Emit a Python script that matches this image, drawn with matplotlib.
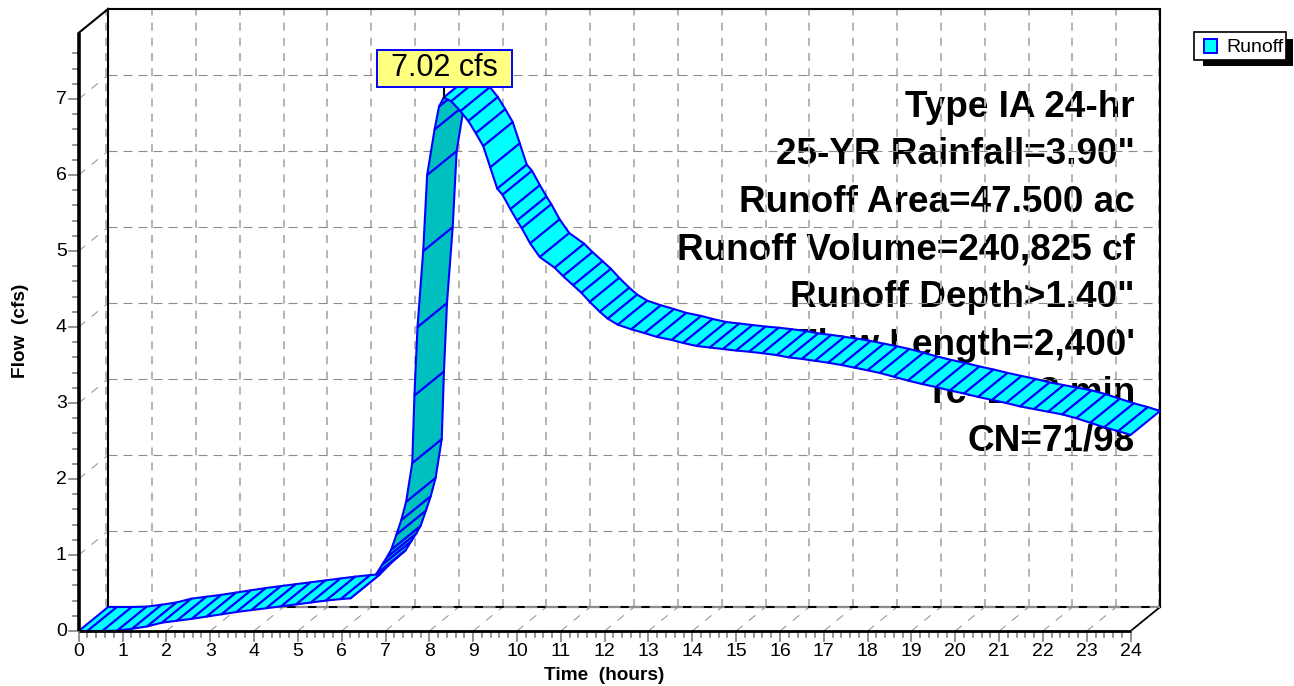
import matplotlib
matplotlib.use("Agg")
import matplotlib.pyplot as plt
from matplotlib.patches import Polygon, Rectangle

plt.rcParams['font.family'] = ['Liberation Sans', 'DejaVu Sans']

# hydrograph, hatch lines sit on these points
time_hours = [0, .2, .54, .88, 1.22, 1.56, 1.9, 2.24, 2.58, 2.92, 3.26, 3.6, 3.94, 4.28, 4.62, 4.96, 5.3, 5.64,
              5.98, 6.2, 6.4, 6.79, 6.92, 7.03, 7.13, 7.25, 7.36, 7.47, 7.61, 7.66, 7.73, 7.86, 7.95, 8.12,
              8.22, 8.33, 8.5, 8.71, 8.89, 9.06, 9.23, 9.39, 9.55, 9.67, 9.85, 10.0, 10.11, 10.3, 10.52, 10.86,
              11.05, 11.28, 11.47, 11.66, 11.89, 12.07, 12.3, 12.61, 12.91, 13.19, 13.53, 13.79, 14.1, 14.4,
              14.7, 15.0, 15.3, 15.6, 15.93, 16.2, 16.5, 16.8, 17.1, 17.4, 17.7, 18.0, 18.28, 18.6, 18.92,
              19.24, 19.56, 19.88, 20.2, 20.52, 20.84, 21.16, 21.48, 21.8, 22.12, 22.44, 22.76, 23.08, 23.4,
              23.72, 24]
flow_cfs = [0, 0, 0, .005, .03, .06, .11, .135, .16, .19, .22, .25, .275, .30, .325, .35, .375, .40,
            .42, .43, .55, .75, .87, .97, 1.07, 1.27, 1.46, 1.70, 2.21, 3.1, 4.0, 5.0, 6.0, 6.6,
            6.9, 7.02, 6.97, 6.84, 6.71, 6.55, 6.38, 6.1, 5.82, 5.74, 5.55, 5.40, 5.30, 5.10, 4.92, 4.78,
            4.67, 4.55, 4.45, 4.33, 4.20, 4.11, 4.03, 3.97, 3.92, 3.87, 3.83, 3.79, 3.75, 3.73,
            3.71, 3.69, 3.675, 3.655, 3.63, 3.60, 3.58, 3.555, 3.53, 3.50, 3.465, 3.43, 3.395, 3.345, 3.295,
            3.25, 3.21, 3.165, 3.125, 3.08, 3.04, 3.0, 2.955, 2.92, 2.885, 2.85, 2.80, 2.74, 2.68,
            2.63, 2.58]

x_ticks = list(range(0, 25))
y_ticks = list(range(0, 8))
notes = ["Type IA 24-hr", "25-YR Rainfall=3.90\"", "Runoff Area=47.500 ac", "Runoff Volume=240,825 cf",
         "Runoff Depth>1.40\"", "Flow Length=2,400'", "Tc=25.8 min", "CN=71/98"]
note_y = [6.89, 6.265, 5.64, 5.01, 4.385, 3.76, 3.13, 2.505]
peak_label = "7.02 cfs"
peak_t = 8.33
peak_q = 7.02

# pixel layout of the reference
W, H = 1294, 686
x0, y0 = 78.7, 631
px_per_h = 43.83
px_per_cfs = 76.0
dx = 29.5 / px_per_h    # depth of the box in hours
dy = 24 / px_per_cfs    # depth of the box in cfs
y_top = 7.87

fig = plt.figure(figsize=(W / 100, H / 100), dpi=100)
ax = fig.add_axes([0, 0, 1, 1])
ax.set_xlim(-x0 / px_per_h, (W - x0) / px_per_h)
ax.set_ylim((y0 - H) / px_per_cfs, y0 / px_per_cfs)
ax.axis("off")

grid_v = "#b4b4b4"
grid_h = "#8c8c8c"

# notes go under grid and band
for s, yy in zip(notes, note_y):
    ax.text(24.1, yy, s, ha="right", va="center", fontsize=26.6, fontweight="bold", color="black", zorder=1)

# grey dashes, the edge ones sit just inside the black outline
for k in x_ticks:
    nudge = 0
    if k == 0:
        nudge = -2 / px_per_h
    if k == 24:
        nudge = -1 / px_per_h
    ax.plot([k + dx + nudge, k + dx + nudge], [dy, y_top + dy], color=grid_v, lw=1.4, dashes=(4.1, 3.7), zorder=2)
    if 0 < k < 24:
        ax.plot([k, k + dx], [0, dy], color=grid_h, lw=0.7, dashes=(8.5, 8.5), zorder=2)
for k in y_ticks:
    if k > 0:
        ax.plot([dx, 24 + dx], [k + dy, k + dy], color=grid_h, lw=0.8, dashes=(8.1, 5.4), zorder=2)
        ax.plot([0, dx], [k, k + dy], color=grid_h, lw=0.7, dashes=(8.5, 8.5), zorder=2)

# back wall outline
for k in [0, 24]:
    ax.plot([k + dx, k + dx], [dy, y_top + dy], color="black", lw=1.5, zorder=2.5)
ax.plot([dx, 24 + dx], [y_top + dy, y_top + dy], color="black", lw=1.5, zorder=2.5)
ax.plot([dx, 24 + dx], [dy, dy], color="black", lw=1.5, zorder=2.5)
ax.plot([dx, 24 + dx], [dy, dy], color=grid_h, lw=1.5, dashes=(6, 4), zorder=2.6)
ax.plot([0, dx], [y_top, y_top + dy], color="black", lw=1.5, zorder=2.5)
ax.plot([24, 24 + dx], [0, dy], color="black", lw=1.3, zorder=2.5)

# ribbon: one face per data step, darker where the underside shows
for i in range(len(time_hours) - 1):
    t1, t2 = time_hours[i], time_hours[i + 1]
    q1, q2 = flow_cfs[i], flow_cfs[i + 1]
    cross = (t2 - t1) * px_per_h * dy * px_per_cfs - (q2 - q1) * px_per_cfs * dx * px_per_h
    face = "#00bfbf" if cross < 0 else "#00ffff"
    ax.add_patch(Polygon([(t1, q1), (t2, q2), (t2 + dx, q2 + dy), (t1 + dx, q1 + dy)], closed=True,
                         facecolor=face, edgecolor="#0000ff", lw=1.5, joinstyle="round", zorder=3 if cross < 0 else 4))

# front axes
ax.plot([0, 0], [0, y_top], color="black", lw=2.6, solid_capstyle="butt", zorder=6)
ax.plot([0, 24], [0, 0], color="black", lw=2.0, solid_capstyle="butt", zorder=6)

for k in y_ticks:
    ax.plot([-10 / px_per_h, 0], [k, k], color="#808080", lw=1.2, zorder=5)
    ax.text(-12 / px_per_h, k, str(k), ha="right", va="center", fontsize=14, color="black")
for k in range(0, 39):
    if k % 5:
        ax.plot([-6 / px_per_h, 0], [k / 5, k / 5], color="#808080", lw=1.2, zorder=5)
for k in x_ticks:
    ax.plot([k, k], [0, -10 / px_per_cfs], color="#808080", lw=1.2, zorder=5)
    ax.text(k, -21 / px_per_cfs, str(k), ha="center", va="center", fontsize=14, color="black")
for k in range(0, 120):
    if k % 5:
        ax.plot([k / 5, k / 5], [0, -6 / px_per_cfs], color="#808080", lw=1.2, zorder=5)

ax.text(12, -45 / px_per_cfs, "Time  (hours)", ha="center", va="center", fontsize=13.7, fontweight="bold")
ax.text(-58 / px_per_h, 3.95, "Flow  (cfs)", ha="center", va="center", rotation=90, fontsize=13.7, fontweight="bold")

# peak callout
ax.plot([peak_t, peak_t], [peak_q, peak_q + 0.2], color="black", lw=1.5, zorder=7)
ax.text(peak_t + 1 / px_per_h, 7.41, peak_label, ha="center", va="center", fontsize=22, color="black", zorder=9)
ax.add_patch(Rectangle(((377 - x0) / px_per_h, (y0 - 87) / px_per_cfs), 135 / px_per_h, 37 / px_per_cfs,
                       facecolor="#ffff80", edgecolor="#0000ff", lw=1.4, zorder=8))

# legend box with drop shadow
ax.add_patch(Rectangle(((1203 - x0) / px_per_h, (y0 - 66) / px_per_cfs), 90 / px_per_h, 27 / px_per_cfs,
                       facecolor="black", edgecolor="none", zorder=8))
ax.add_patch(Rectangle(((1194.5 - x0) / px_per_h, (y0 - 60) / px_per_cfs), 92 / px_per_h, 28 / px_per_cfs,
                       facecolor="white", edgecolor="black", lw=1.2, zorder=9))
ax.add_patch(Rectangle(((1204.5 - x0) / px_per_h, (y0 - 53) / px_per_cfs), 12.5 / px_per_h, 14 / px_per_cfs,
                       facecolor="#00ffff", edgecolor="#0000ff", lw=1.4, zorder=10))
ax.text((1226 - x0) / px_per_h, (y0 - 47.5) / px_per_cfs, "Runoff", ha="left", va="center", fontsize=14, zorder=10)

fig.savefig("out.png", dpi=100)
